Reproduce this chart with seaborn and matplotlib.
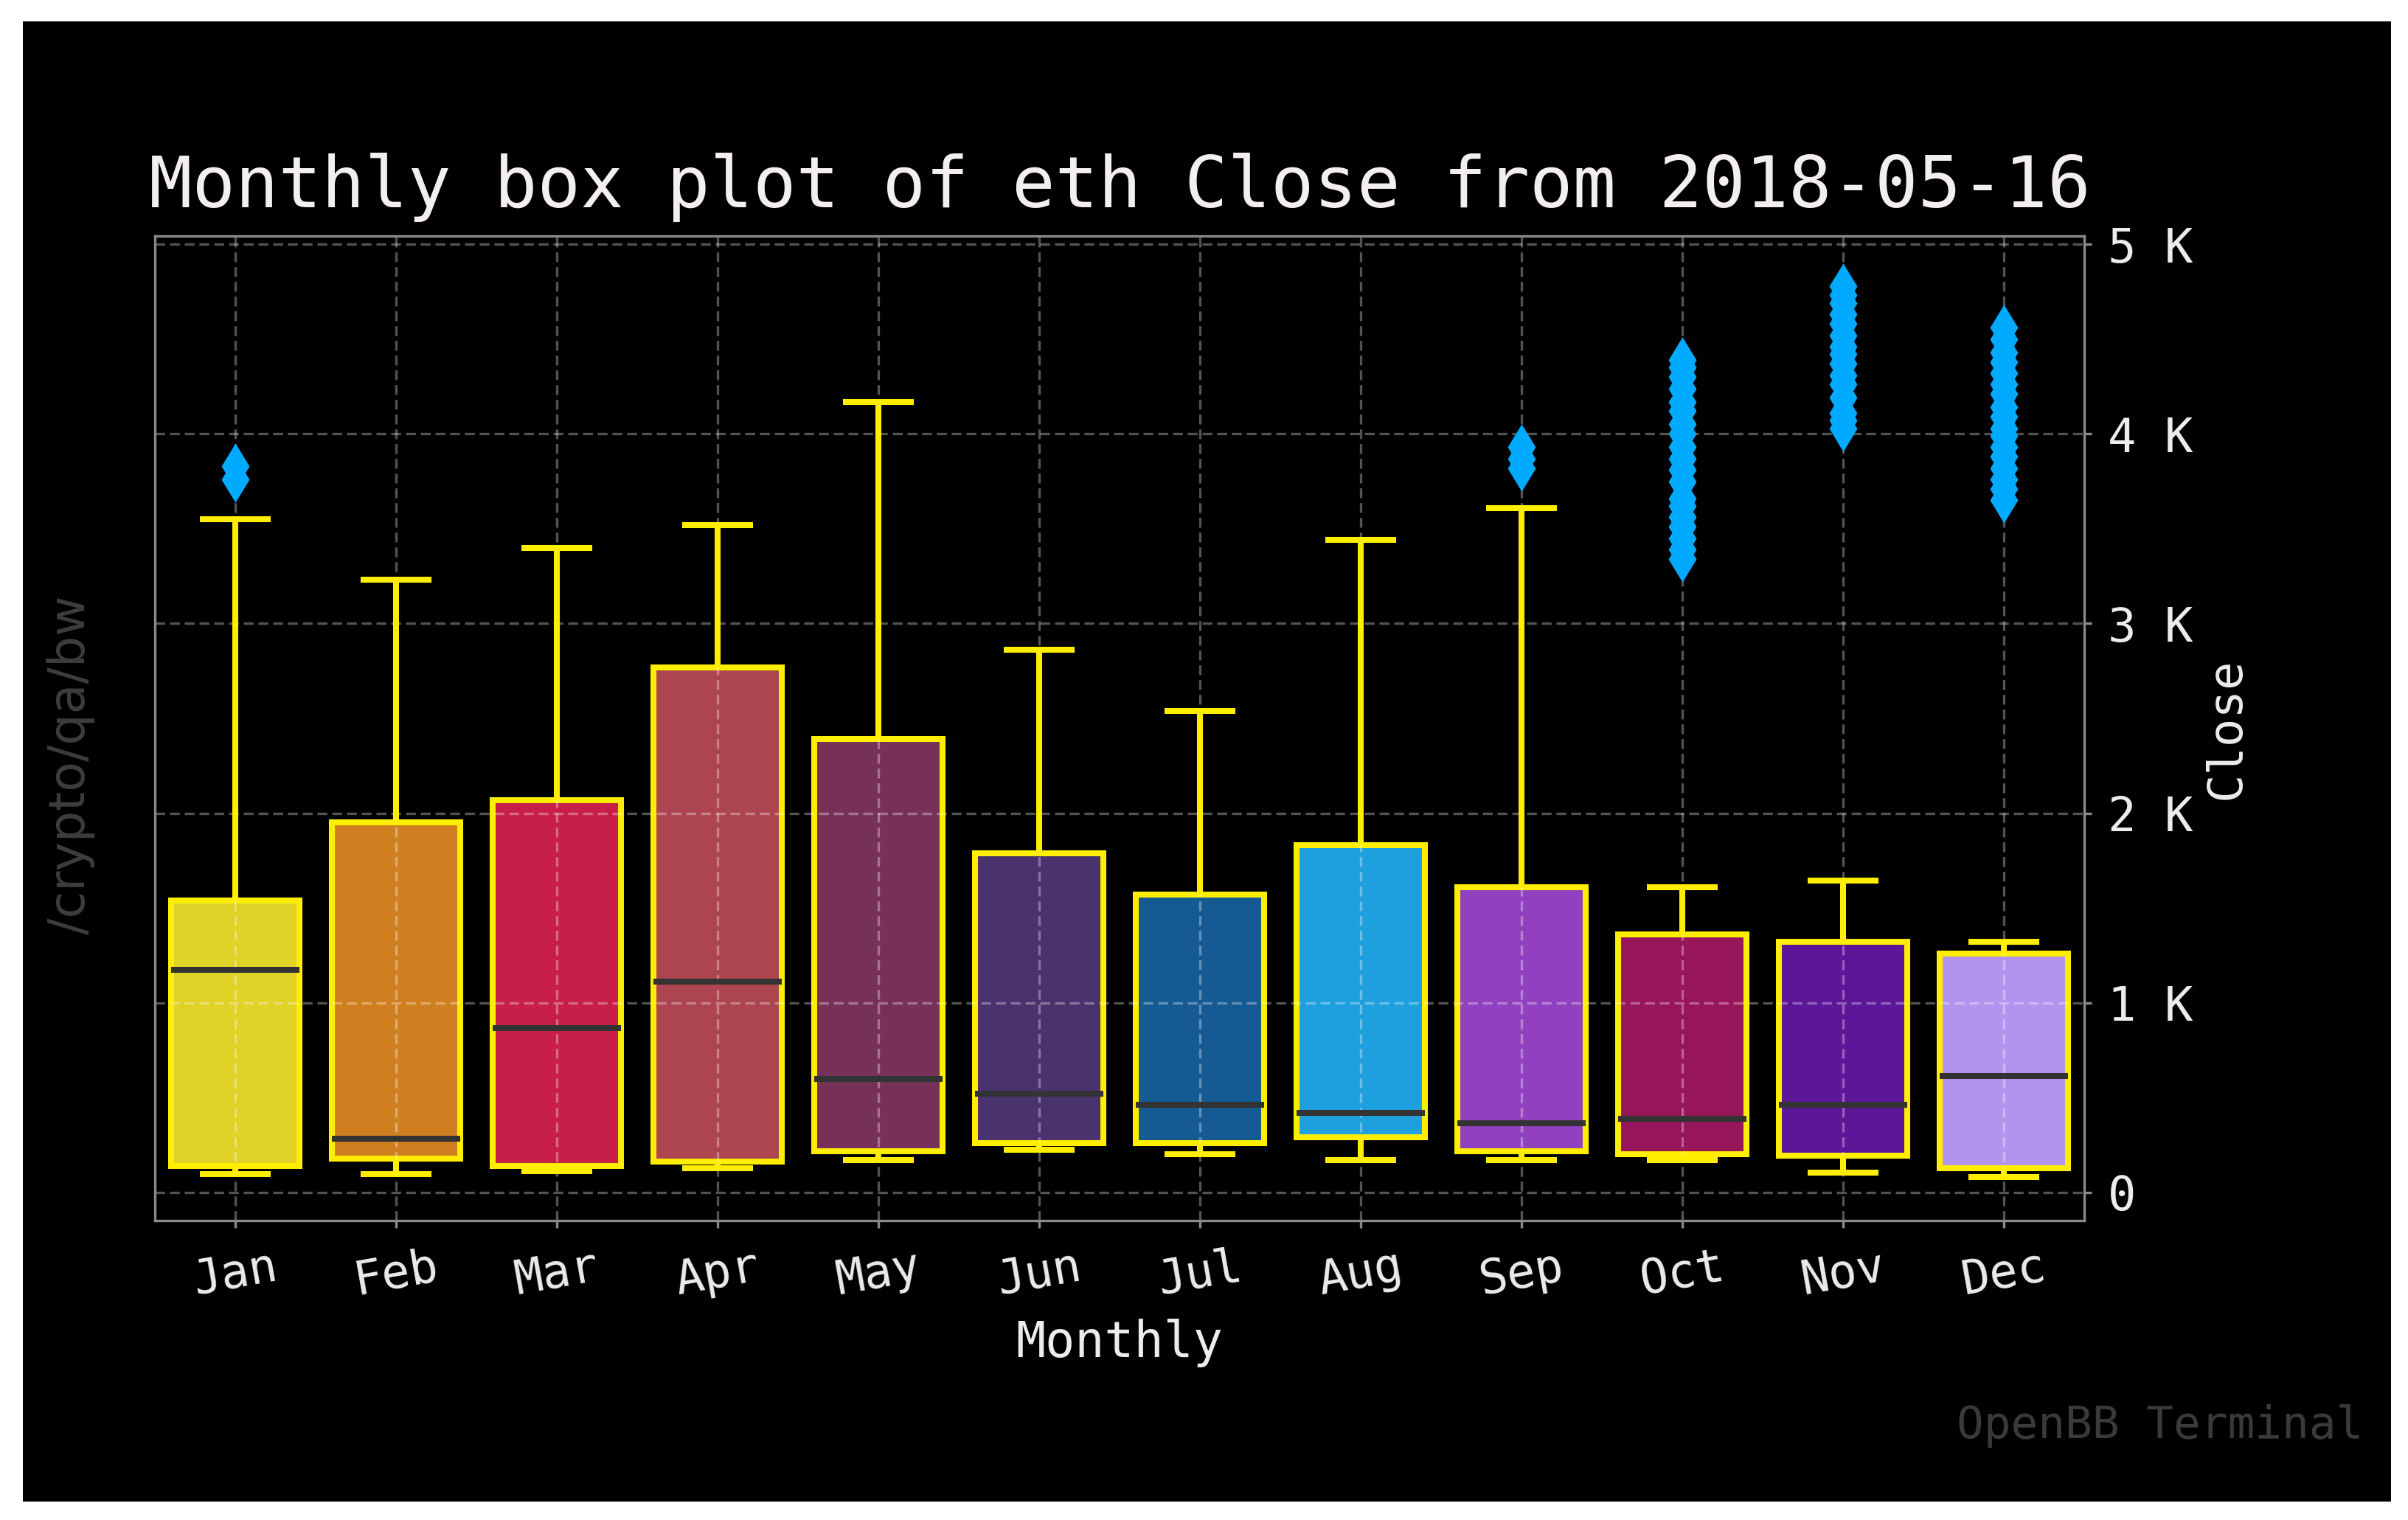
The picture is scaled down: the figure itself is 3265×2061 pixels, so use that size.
import matplotlib
matplotlib.use("Agg")
import matplotlib.pyplot as plt
from matplotlib.patches import Rectangle
from matplotlib.ticker import FuncFormatter
import seaborn as sns
import pandas as pd

# ---- data (USD) ----
months = ["Jan", "Feb", "Mar", "Apr", "May", "Jun",
          "Jul", "Aug", "Sep", "Oct", "Nov", "Dec"]
whisker_low = [97, 97, 113, 130, 170, 227, 203, 170, 170, 170, 105, 81]
q1 = [138, 178, 138, 162, 219, 259, 259, 292, 219, 203, 194, 130]
median = [1175, 284, 867, 1110, 600, 519, 462, 420, 365, 389, 462, 616]
q3 = [1540, 1950, 2070, 2770, 2390, 1790, 1570, 1830, 1610, 1360, 1320, 1260]
whisker_high = [3550, 3230, 3400, 3520, 4170, 2860, 2540, 3440, 3610, 1610, 1645, 1320]
outliers = {
    "Jan": [3760, 3830],
    "Sep": [3820, 3870, 3930],
    "Oct": [3340, 3390, 3450, 3510, 3560, 3620, 3660, 3750, 3810, 3870,
            3930, 4000, 4050, 4120, 4170, 4240, 4300, 4350, 4390],
    "Nov": [4030, 4070, 4110, 4190, 4260, 4310, 4370, 4420, 4460, 4520,
            4580, 4630, 4690, 4730, 4780],
    "Dec": [3650, 3710, 3760, 3820, 3880, 3930, 3990, 4030, 4090, 4140,
            4210, 4260, 4320, 4380, 4430, 4500, 4560],
}
box_colors = ["#E0D227", "#D07F20", "#C71F47", "#AD4550", "#773159", "#4A326E",
              "#165A94", "#1FA0DE", "#9141C0", "#97155A", "#5C1697", "#B294EE"]
ytick_vals = [0, 1000, 2000, 3000, 4000, 5000]

# Build a raw sample per month whose quartiles / whiskers / fliers equal the values above
rows = []
for i, m in enumerate(months):
    outs = outliers.get(m, [])
    k = len(outs) + 1
    vals = ([whisker_low[i]] + [q1[i]] * k + [median[i]] * k + [q3[i]] * k
            + [whisker_high[i]] + outs)
    rows += [(m, v) for v in vals]
df = pd.DataFrame(rows, columns=["Monthly", "Close"])

# ---- style ----
mono = "DejaVu Sans Mono"
plt.rcParams["font.family"] = [mono, "DejaVu Sans"]

W, H, DPI = 3266, 2061, 200
fig = plt.figure(figsize=(W / DPI, H / DPI), dpi=DPI, facecolor="white")
fig.add_artist(Rectangle((31 / W, 1 - 2036 / H), (3242 - 31) / W, (2036 - 29) / H,
                         transform=fig.transFigure, facecolor="black",
                         edgecolor="none", zorder=-10))
ax = fig.add_axes([210 / W, 1 - 1655 / H, (2826 - 210) / W, (1655 - 320) / H])
ax.set_facecolor("black")

yellow = "#FFEE00"
lw = 2.9
sns.boxplot(data=df, x="Monthly", y="Close", hue="Monthly", order=months,
            hue_order=months, palette=box_colors, legend=False, saturation=1,
            width=0.8, linewidth=lw, linecolor=yellow, fliersize=14.5, ax=ax,
            medianprops={"color": "#333333", "linewidth": lw},
            flierprops={"marker": "d", "markerfacecolor": "#00AAFF",
                        "markeredgecolor": "#00AAFF", "markeredgewidth": 1.2})

for p in ax.patches:
    p.set_zorder(1)
ax.set_axisbelow("line")
ax.grid(True, color="white", alpha=0.33, linestyle=(0, (4, 2)), linewidth=1.2)

ax.set_xlim(-0.5, 11.5)
ax.set_ylim(-148, 5043)
ax.set_yticks(ytick_vals)
ax.yaxis.set_major_formatter(FuncFormatter(lambda v, p: "0" if v == 0 else f"{v/1000:.0f} K"))
ax.yaxis.tick_right()
ax.yaxis.set_label_position("right")

for s in ax.spines.values():
    s.set_color("#8a8a8a")
    s.set_linewidth(1.2)

txt = "#ececec"
ax.tick_params(axis="x", colors="#8a8a8a", labelcolor=txt, labelsize=23,
               length=3.5, width=1.2, pad=8, labelrotation=10)
ax.tick_params(axis="y", colors="#8a8a8a", labelcolor=txt, labelsize=23,
               length=3.5, width=1.2, pad=8)
ax.set_xlabel("Monthly", color=txt, fontsize=24, labelpad=7)
ax.set_ylabel("Close", color=txt, fontsize=23, labelpad=5)
ax.set_title("Monthly box plot of eth Close from 2018-05-16", color="#f2eef2",
             fontsize=35, pad=14)

fig.text(0.0294, 0.497, "/crypto/qa/bw", rotation=90, ha="center", va="center",
         color="#3d3d3d", fontsize=24, family="DejaVu Sans")
fig.text(0.981, 0.054, "OpenBB Terminal", ha="right", va="baseline",
         color="#3a3a3a", fontsize=22, family=mono)

fig.savefig("out.png", dpi=DPI, facecolor="white")
